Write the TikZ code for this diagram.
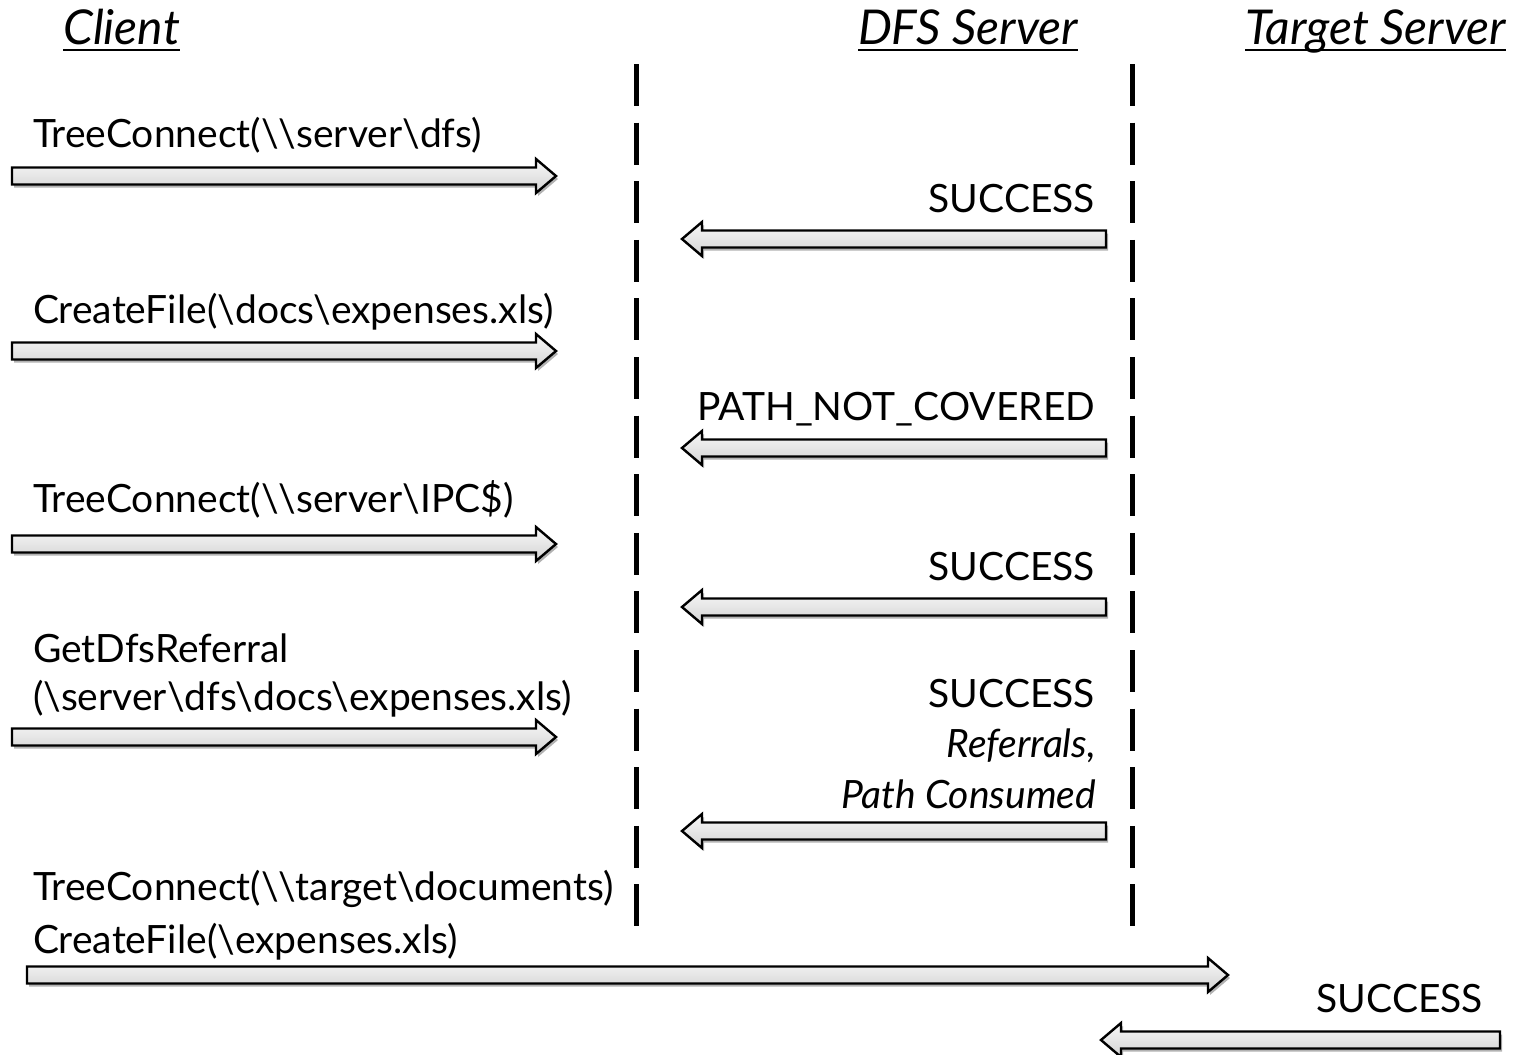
\documentclass[tikz,border=0pt]{standalone}
\usepackage{fontspec}
\setmainfont{Lato}
\usetikzlibrary{calc,shadows}
\tikzset{
  lbl/.style={inner sep=0pt, outer sep=0pt, font=\fontsize{39}{47}\selectfont},
  ttl/.style={inner sep=0pt, outer sep=0pt, font=\fontsize{48}{58}\selectfont\itshape},
  blockarrow/.style={draw=black, line width=2.4pt, line join=miter, top color=gray!6, bottom color=gray!34,
    drop shadow={shadow xshift=2pt, shadow yshift=-3pt, opacity=0.3, fill=black}},
  lifeline/.style={line width=5pt, dash pattern=on 42pt off 16.6pt},
}
\newcommand\barrow[2]{%
  \path[blockarrow] let \p1=(#1), \p2=(#2), \n1={sign(\x2-\x1)} in
    (\x1,\y1+8.5pt) -- (\x2-\n1*20pt,\y1+8.5pt) -- (\x2-\n1*20pt,\y1+17pt) -- (\x2,\y1)
    -- (\x2-\n1*20pt,\y1-17pt) -- (\x2-\n1*20pt,\y1-8.5pt) -- (\x1,\y1-8.5pt) -- cycle;}
\begin{document}
\begin{tikzpicture}[x=1pt,y=-1pt]
\useasboundingbox (0,0) rectangle (1516,1055);
% titles
\node[ttl, anchor=base west] (tc) at (63,44) {Client};
\node[ttl, anchor=base west] (td) at (858,44) {DFS Server};
\node[ttl, anchor=base west] (tt) at (1245,44) {Target Server};
\foreach \t in {tc,td,tt}{\draw[line width=2.5pt] ([yshift=-6pt]\t.base west) -- ([yshift=-6pt]\t.base east);}
% lifelines
\coordinate (l1a) at (636,64); \coordinate (l1b) at (636,927);
\coordinate (l2a) at (1132,64); \coordinate (l2b) at (1132,927);
\draw[lifeline] (l1a) -- (l1b);
\draw[lifeline] (l2a) -- (l2b);
% left texts
\node[lbl, anchor=base west] (m1) at (33,147) {TreeConnect(\textbackslash\textbackslash server\textbackslash dfs)};
\node[lbl, anchor=base west] (m2) at (33,323) {CreateFile(\textbackslash docs\textbackslash expenses.xls)};
\node[lbl, anchor=base west] (m3) at (33,512) {TreeConnect(\textbackslash\textbackslash server\textbackslash IPC\$)};
\node[lbl, anchor=base west] (m4a) at (33,662) {GetDfsReferral};
\node[lbl, anchor=base west] (m4b) at (33,710) {(\textbackslash server\textbackslash dfs\textbackslash docs\textbackslash expenses.xls)};
\node[lbl, anchor=base west] (m5a) at (33,900) {TreeConnect(\textbackslash\textbackslash target\textbackslash documents)};
\node[lbl, anchor=base west] (m5b) at (33,953) {CreateFile(\textbackslash expenses.xls)};
% right texts
\node[lbl, anchor=base east] (r1) at (1095,212) {SUCCESS};
\node[lbl, anchor=base east] (r2) at (1095,420) {PATH\_NOT\_COVERED};
\node[lbl, anchor=base east] (r3) at (1095,580) {SUCCESS};
\node[lbl, anchor=base east] (r4a) at (1095,707) {SUCCESS};
\node[lbl, anchor=base east, font=\fontsize{39}{47}\selectfont\itshape] (r4b) at (1096,757) {Referrals,};
\node[lbl, anchor=base east, font=\fontsize{39}{47}\selectfont\itshape] (r4c) at (1096,808) {Path Consumed};
\node[lbl, anchor=base east] (r5) at (1483,1012) {SUCCESS};
% arrow end points
\coordinate (a1s) at (12,176);  \coordinate (a1e) at (556,176);
\coordinate (a2s) at (12,351);  \coordinate (a2e) at (556,351);
\coordinate (a3s) at (12,544);  \coordinate (a3e) at (556,544);
\coordinate (a4s) at (12,737);  \coordinate (a4e) at (556,737);
\coordinate (a5s) at (27,975);  \coordinate (a5e) at (1228,975);
\coordinate (b1s) at (1106,239); \coordinate (b1e) at (682,239);
\coordinate (b2s) at (1106,448); \coordinate (b2e) at (682,448);
\coordinate (b3s) at (1106,607); \coordinate (b3e) at (682,607);
\coordinate (b4s) at (1106,831); \coordinate (b4e) at (682,831);
\coordinate (b5s) at (1500,1040); \coordinate (b5e) at (1101,1040);
\barrow{a1s}{a1e}
\barrow{a2s}{a2e}
\barrow{a3s}{a3e}
\barrow{a4s}{a4e}
\barrow{a5s}{a5e}
\barrow{b1s}{b1e}
\barrow{b2s}{b2e}
\barrow{b3s}{b3e}
\barrow{b4s}{b4e}
\barrow{b5s}{b5e}
\end{tikzpicture}
\end{document}
